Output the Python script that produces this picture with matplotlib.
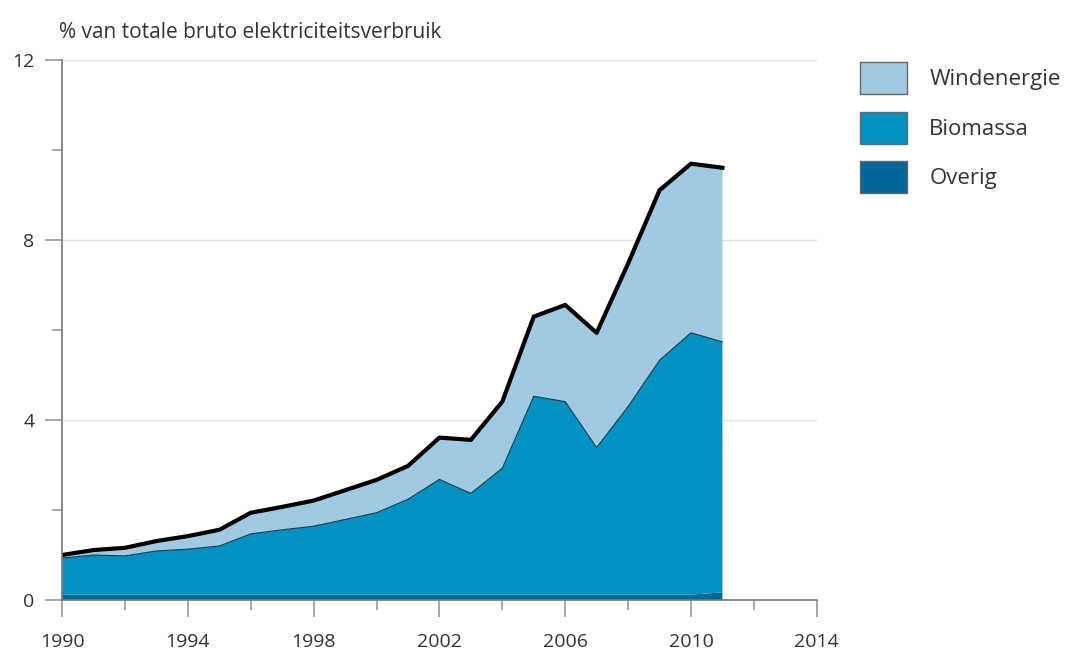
import matplotlib
matplotlib.use('Agg')
from matplotlib import pyplot as plt
from matplotlib.patches import Patch
import numpy as np

plt.rcParams['font.family'] = ['Open Sans', 'DejaVu Sans']

jaren = [1990, 1991, 1992, 1993, 1994, 1995, 1996, 1997, 1998, 1999, 2000,
         2001, 2002, 2003, 2004, 2005, 2006, 2007, 2008, 2009, 2010, 2011]
overig = [0.12, 0.12, 0.12, 0.12, 0.12, 0.12, 0.12, 0.12, 0.12, 0.12, 0.12,
          0.12, 0.12, 0.12, 0.12, 0.12, 0.12, 0.12, 0.12, 0.12, 0.12, 0.17]
biomassa = [0.81, 0.88, 0.86, 0.97, 1.01, 1.08, 1.35, 1.44, 1.52, 1.67, 1.82,
            2.12, 2.56, 2.25, 2.81, 4.41, 4.29, 3.27, 4.18, 5.21, 5.82, 5.57]
wind = [0.07, 0.11, 0.18, 0.22, 0.29, 0.36, 0.47, 0.51, 0.57, 0.65, 0.73,
        0.74, 0.93, 1.19, 1.48, 1.77, 2.15, 2.55, 3.18, 3.78, 3.76, 3.87]
labels = ['Overig', 'Biomassa', 'Windenergie']
kleuren = ['#00679b', '#0093c1', '#9fcae1']

jaren = np.array(jaren)
bio_top = np.array(overig) + np.array(biomassa)
totaal = bio_top + np.array(wind)

fig = plt.figure(figsize=(10.89, 6.55), dpi=100)
ax = fig.add_axes([0.057, 0.084, 0.693, 0.824])

ax.stackplot(jaren, overig, biomassa, wind, colors=kleuren, linewidth=0)
ax.plot(jaren, bio_top, color='#1a3a4a', linewidth=0.8)
ax.plot(jaren, totaal, color='black', linewidth=3, solid_joinstyle='round')

ax.set_xlim(1990, 2014)
ax.set_ylim(0, 12)
ax.set_xticks(range(1990, 2015, 4))
ax.set_xticks(range(1990, 2015, 2), minor=True)
ax.set_yticks([0, 4, 8, 12])
ax.set_yticks([2, 6, 10], minor=True)

for y in [4, 8, 12]:
    ax.axhline(y, color='#e3e3e3', linewidth=1, zorder=0)

for s in ['top', 'right']:
    ax.spines[s].set_visible(False)
for s in ['left', 'bottom']:
    ax.spines[s].set_color('#777777')
    ax.spines[s].set_linewidth(1.2)
ax.spines['bottom'].set_zorder(5)

ax.tick_params(axis='both', which='major', length=12, width=1.2, color='#999999',
               labelsize=14, labelcolor='#333333')
ax.tick_params(axis='both', which='minor', length=7, width=1.2, color='#999999')
ax.tick_params(axis='x', which='major', pad=12)
ax.tick_params(axis='y', which='major', pad=8)

fig.text(0.054, 0.951, '% van totale bruto elektriciteitsverbruik', fontsize=15,
         color='#333333', ha='left', va='center')

handles = [Patch(facecolor=kleuren[i], edgecolor='#666666', linewidth=1)
           for i in [2, 1, 0]]
fig.legend(handles, [labels[i] for i in [2, 1, 0]], loc='upper left',
           bbox_to_anchor=(0.79, 0.905), frameon=False, fontsize=16,
           borderpad=0, borderaxespad=0,
           handlelength=2.1, handleheight=1.85, labelspacing=0.77,
           handletextpad=1.0, labelcolor='#333333')

fig.savefig('out.png', dpi=100)
